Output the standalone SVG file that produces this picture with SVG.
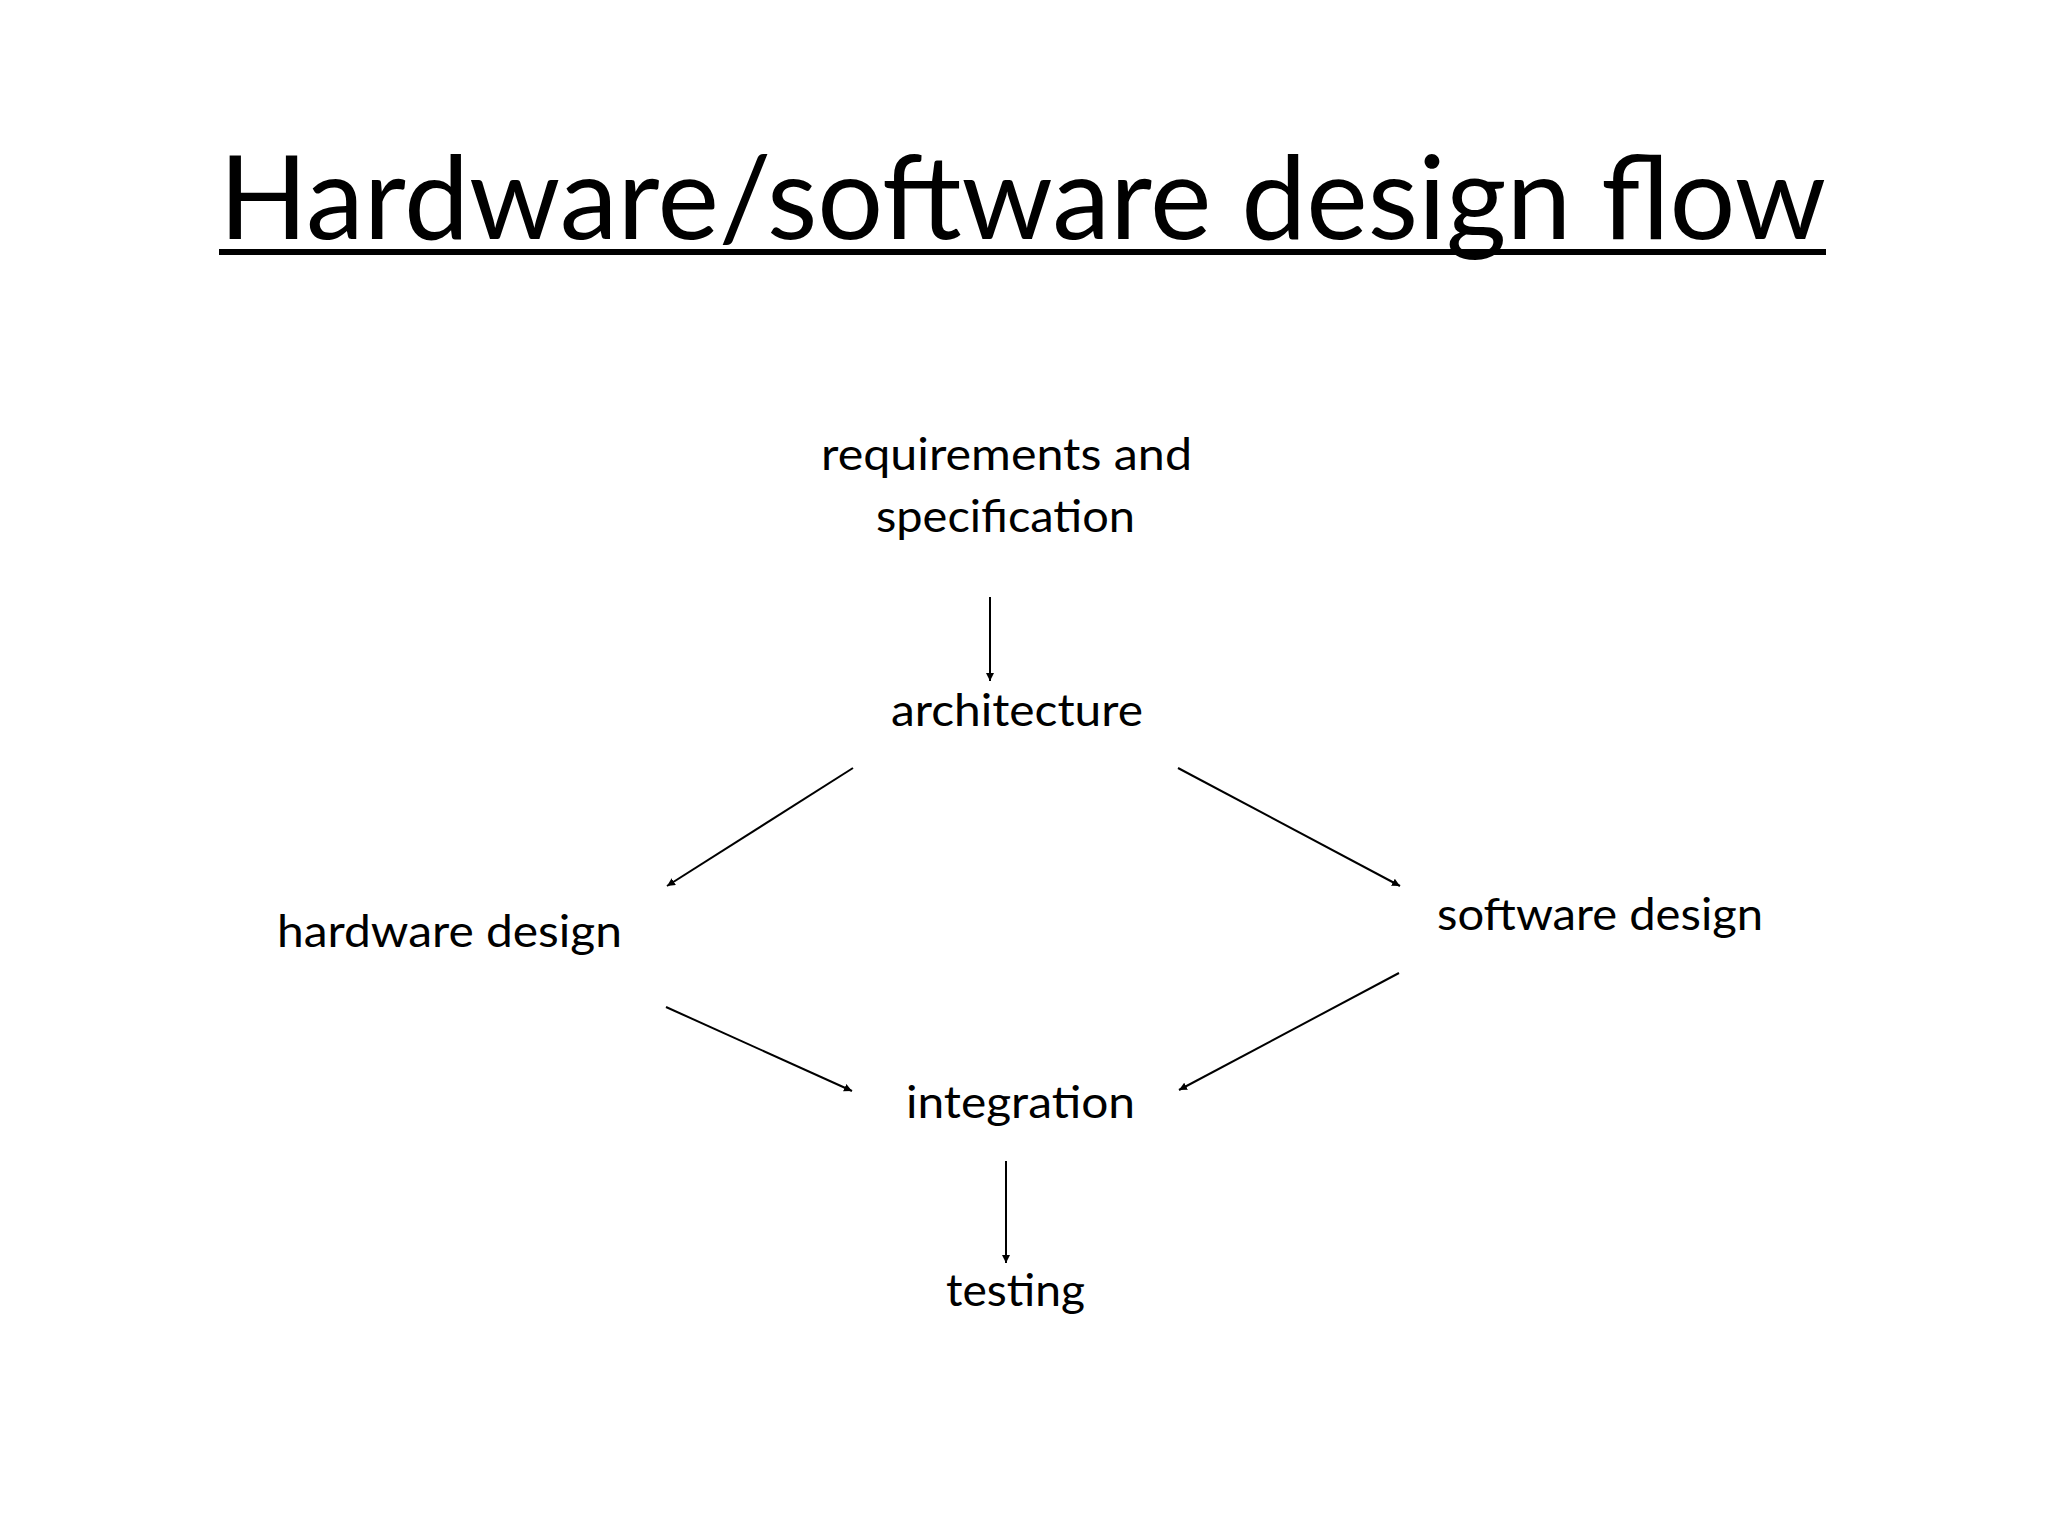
<svg xmlns="http://www.w3.org/2000/svg" width="2048" height="1536" viewBox="0 0 2048 1536">
<style>
text{font-family:Lato,"Open Sans","DejaVu Sans",sans-serif;fill:#000}
.n{font-size:44px}
.c{stroke:#000;stroke-width:2;fill:none;marker-end:url(#ah)}
</style>
<defs><marker id="ah" viewBox="0 0 10 10" refX="10" refY="5" markerWidth="8" markerHeight="8" markerUnits="userSpaceOnUse" orient="auto"><path d="M0,0L10,5L0,10z" fill="#000"/></marker></defs>
<rect width="2048" height="1536" fill="#fff"/>
<g id="title"><text x="219" y="239" font-size="116" textLength="1607" lengthAdjust="spacingAndGlyphs">Hardware/software design flow</text><rect x="219" y="249" width="1607" height="6" fill="#000"/></g>
<g id="req"><text class="n" x="821" y="470" textLength="371" lengthAdjust="spacingAndGlyphs">requirements and</text><text class="n" x="876" y="532" textLength="259" lengthAdjust="spacingAndGlyphs">specification</text></g>
<g id="arch"><text class="n" x="891" y="726" textLength="252" lengthAdjust="spacingAndGlyphs">architecture</text></g>
<g id="hw"><text class="n" x="277" y="947" textLength="345" lengthAdjust="spacingAndGlyphs">hardware design</text></g>
<g id="sw"><text class="n" x="1437" y="930" textLength="326" lengthAdjust="spacingAndGlyphs">software design</text></g>
<g id="integ"><text class="n" x="906" y="1118" textLength="229" lengthAdjust="spacingAndGlyphs">integration</text></g>
<g id="test"><text class="n" x="946" y="1306" textLength="139" lengthAdjust="spacingAndGlyphs">testing</text></g>
<g id="connectors">
<line class="c" x1="990" y1="597" x2="990" y2="681"/>
<line class="c" x1="853" y1="768" x2="667" y2="886"/>
<line class="c" x1="1178" y1="768" x2="1400" y2="886"/>
<line class="c" x1="666" y1="1007" x2="852" y2="1091"/>
<line class="c" x1="1399" y1="973" x2="1179" y2="1090"/>
<line class="c" x1="1006" y1="1161" x2="1006" y2="1263"/>
</g>
</svg>
